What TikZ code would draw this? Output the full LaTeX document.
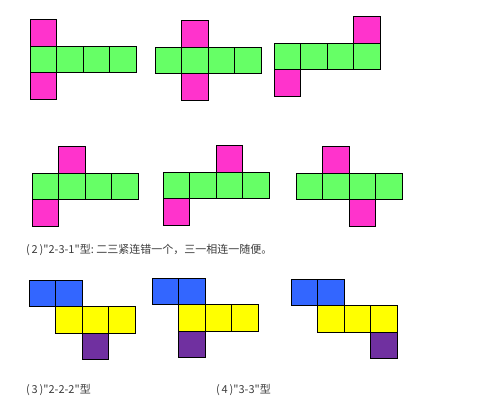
\documentclass[tikz,border=0pt]{standalone}
\usepackage{fontspec}
\newfontfamily\cjk{Noto Sans CJK SC}
\usetikzlibrary{positioning}

\definecolor{facepink}{RGB}{255,51,204}
\definecolor{facegreen}{RGB}{102,255,102}
\definecolor{faceblue}{RGB}{51,102,255}
\definecolor{faceyellow}{RGB}{255,255,0}
\definecolor{facepurple}{RGB}{112,48,160}
\definecolor{captiongray}{RGB}{60,60,60}

\tikzset{
  face/.style={draw=black,line width=0.8pt,minimum size=26.5pt,inner sep=0pt,outer sep=0pt},
  pk/.style={face,fill=facepink},
  gr/.style={face,fill=facegreen},
  bl/.style={face,fill=faceblue},
  ye/.style={face,fill=faceyellow},
  pu/.style={face,fill=facepurple},
  caption/.style={anchor=west,inner sep=0pt,text=captiongray,font=\cjk\fontsize{11}{13}\selectfont}
}

\begin{document}
\begin{tikzpicture}[x=1pt,y=-1pt,node distance=0pt]
  \useasboundingbox[fill=white] (0,0) rectangle (499,405);

  % 1-4-1, first net
  \node[gr,anchor=north west] (a1) at (30,46) {};
  \node[gr,right=of a1] (a2) {};
  \node[gr,right=of a2] (a3) {};
  \node[gr,right=of a3] (a4) {};
  \node[pk,above=of a1] (a5) {};
  \node[pk,below=of a1] (a6) {};

  % second net
  \node[gr,anchor=north west] (b1) at (155,47) {};
  \node[gr,right=of b1] (b2) {};
  \node[gr,right=of b2] (b3) {};
  \node[gr,right=of b3] (b4) {};
  \node[pk,above=of b2] (b5) {};
  \node[pk,below=of b2] (b6) {};

  % third net
  \node[gr,anchor=north west] (c1) at (274,43) {};
  \node[gr,right=of c1] (c2) {};
  \node[gr,right=of c2] (c3) {};
  \node[gr,right=of c3] (c4) {};
  \node[pk,above=of c4] (c5) {};
  \node[pk,below=of c1] (c6) {};

  % fourth net
  \node[gr,anchor=north west] (d1) at (32,173) {};
  \node[gr,right=of d1] (d2) {};
  \node[gr,right=of d2] (d3) {};
  \node[gr,right=of d3] (d4) {};
  \node[pk,above=of d2] (d5) {};
  \node[pk,below=of d1] (d6) {};

  % fifth net
  \node[gr,anchor=north west] (e1) at (163,172) {};
  \node[gr,right=of e1] (e2) {};
  \node[gr,right=of e2] (e3) {};
  \node[gr,right=of e3] (e4) {};
  \node[pk,above=of e3] (e5) {};
  \node[pk,below=of e1] (e6) {};

  % sixth net
  \node[gr,anchor=north west] (f1) at (296,173) {};
  \node[gr,right=of f1] (f2) {};
  \node[gr,right=of f2] (f3) {};
  \node[gr,right=of f3] (f4) {};
  \node[pk,above=of f2] (f5) {};
  \node[pk,below=of f3] (f6) {};

  \node[caption] (cap2) at (26,250) {(\,2\,)"2-3-1"型:\ 二三紧连错一个，三一相连一随便。};

  % 2-2-2
  \node[bl,anchor=north west] (g1) at (29,280) {};
  \node[bl,right=of g1] (g2) {};
  \node[ye,below=of g2] (g3) {};
  \node[ye,right=of g3] (g4) {};
  \node[ye,right=of g4] (g5) {};
  \node[pu,below=of g4] (g6) {};

  % 2-2-2, second
  \node[bl,anchor=north west] (h1) at (152,278) {};
  \node[bl,right=of h1] (h2) {};
  \node[ye,below=of h2] (h3) {};
  \node[ye,right=of h3] (h4) {};
  \node[ye,right=of h4] (h5) {};
  \node[pu,below=of h3] (h6) {};

  % 3-3
  \node[bl,anchor=north west] (i1) at (291,279) {};
  \node[bl,right=of i1] (i2) {};
  \node[ye,below=of i2] (i3) {};
  \node[ye,right=of i3] (i4) {};
  \node[ye,right=of i4] (i5) {};
  \node[pu,below=of i5] (i6) {};

  \node[caption] (cap3) at (26,390) {(\,3\,)"2-2-2"型};
  \node[caption] (cap4) at (216,390) {(\,4\,)"3-3"型};
\end{tikzpicture}
\end{document}
